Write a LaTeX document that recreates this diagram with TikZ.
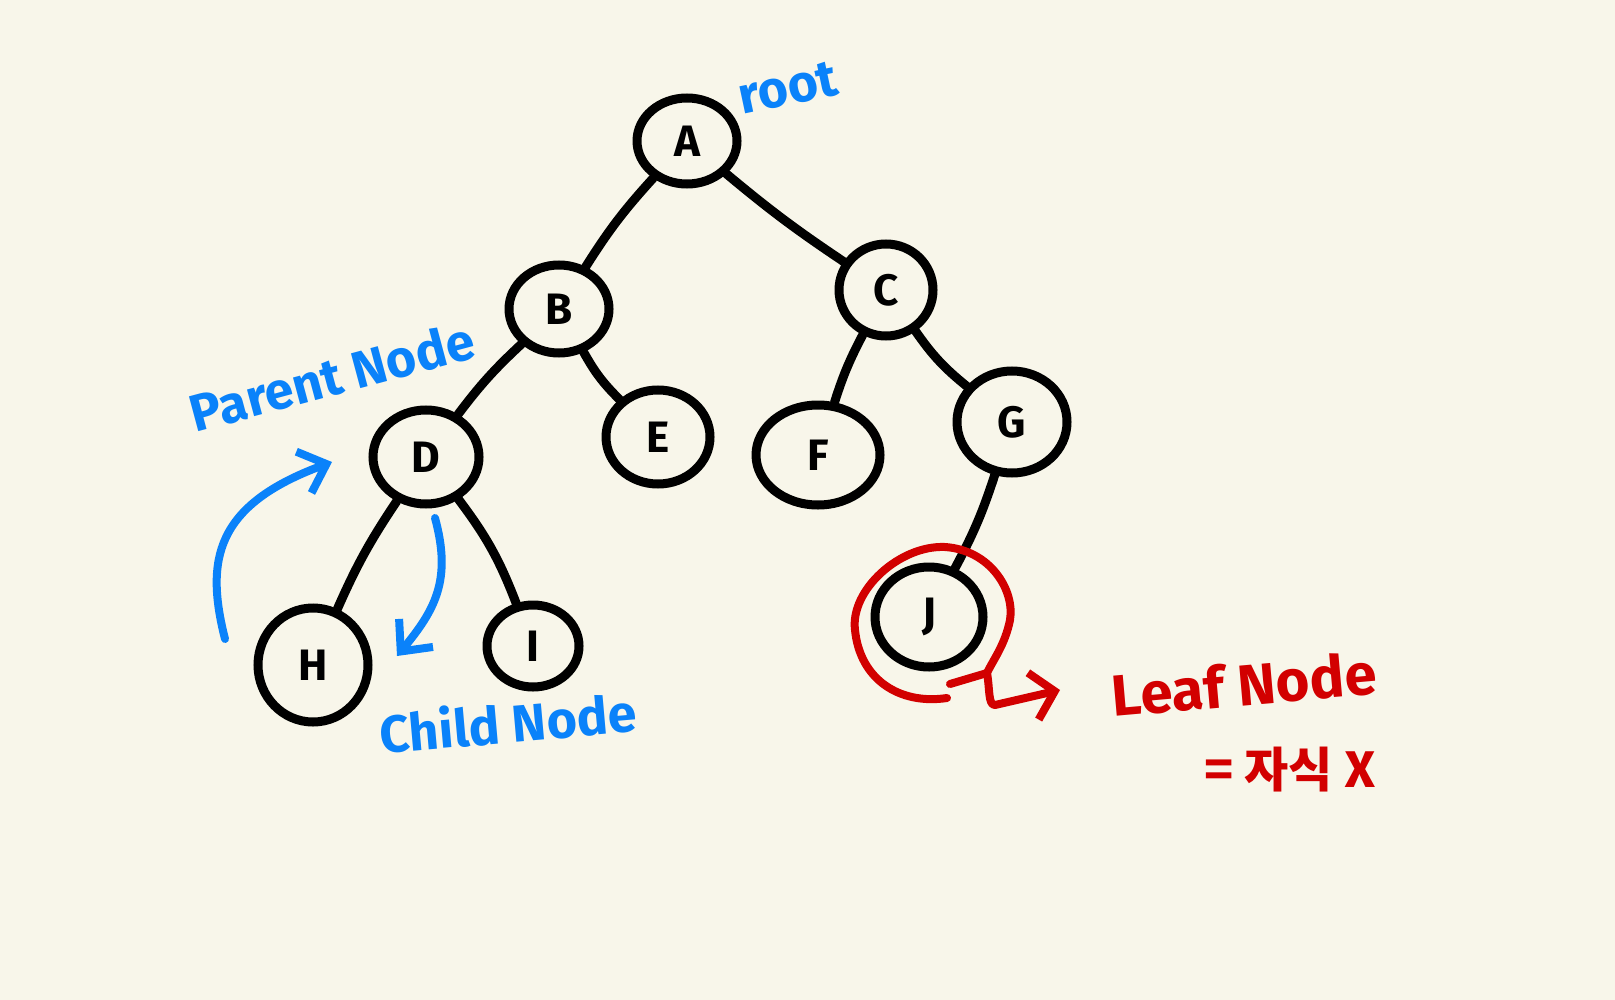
\documentclass[tikz,border=0pt]{standalone}
\usepackage{fontspec}
\setmainfont{Fira Sans}
\setsansfont{Fira Sans}
\newfontfamily\krfont{Noto Sans CJK KR}
\usetikzlibrary{shapes.geometric,arrows.meta}
\definecolor{bgcol}{RGB}{248,246,234}
\definecolor{penblue}{RGB}{10,130,250}
\definecolor{penred}{RGB}{210,0,0}
\tikzset{
  tnode/.style={ellipse, draw=black, line width=4.5pt, inner sep=0pt,
     font=\bfseries\fontsize{22}{24}\selectfont},
  tedge/.style={draw=black, line width=4.5pt, line cap=round},
  bluepen/.style={draw=penblue, line width=4pt, line cap=round, line join=round},
  redpen/.style={draw=penred, line width=4pt, line cap=round, line join=round},
  bluelabel/.style={text=penblue, font=\bfseries\fontsize{26}{28}\selectfont, inner sep=0pt},
  redlabel/.style={text=penred, font=\bfseries\fontsize{29}{31}\selectfont, inner sep=0pt},
}
\begin{document}
\begin{tikzpicture}[x=0.5pt,y=-0.5pt]
\fill[bgcol] (0,0) rectangle (1615,1000);
\useasboundingbox (0,0) rectangle (1615,1000);

% nodes
\node[tnode, minimum width=50pt, minimum height=43pt] (A) at (687,141) {A};
\node[tnode, minimum width=50pt, minimum height=44pt] (B) at (559,309) {B};
\node[tnode, minimum width=47pt, minimum height=46pt] (C) at (886,290) {C};
\node[tnode, minimum width=53pt, minimum height=47pt] (D) at (426,457) {D};
\node[tnode, minimum width=52pt, minimum height=47pt] (E) at (658,437) {E};
\node[tnode, minimum width=62pt, minimum height=50pt] (F) at (818,455) {F};
\node[tnode, minimum width=55pt, minimum height=51pt] (G) at (1012,422) {G};
\node[tnode, minimum width=55pt, minimum height=57pt] (H) at (313,665) {H};
\node[tnode, minimum width=46pt, minimum height=41pt] (I) at (533,646) {I};
\node[tnode, minimum width=54pt, minimum height=50pt] (J) at (929,617) {J};

% edges
\draw[tedge] (A) to[bend right=5] (B);
\draw[tedge] (A) to[bend right=3] (C);
\draw[tedge] (B) to[bend right=5] (D);
\draw[tedge] (B) to[bend right=8] (E);
\draw[tedge] (C) to[bend right=5] (F);
\draw[tedge] (C) to[bend right=8] (G);
\draw[tedge] (D) to[bend right=5] (H);
\draw[tedge] (D) to[bend left=8] (I);
\draw[tedge] (G) to[bend left=5] (J);

% labels
\node[bluelabel, rotate=12] (root) at (788,88) {root};
\node[bluelabel, rotate=15] (parent) at (332,376) {Parent Node};
\node[bluelabel, rotate=5] (child) at (508,722) {Child Node};
\node[redlabel, rotate=5] (leaf) at (1244,684) {Leaf Node};
\node[text=penred, font=\krfont\bfseries\fontsize{24}{26}\selectfont, inner sep=0pt] (nochild) at (1290,770) {= 자식 X};

% blue arrows
\coordinate (p1s) at (225,639);
\coordinate (p1e) at (332,462);
\draw[bluepen, -{Straight Barb[length=12pt,width=22pt,line width=4pt]}]
  (p1s) .. controls (205,560) and (215,505) .. (p1e);
\coordinate (p2s) at (435,518);
\coordinate (p2e) at (397,656);
\draw[bluepen, -{Straight Barb[length=12pt,width=22pt,line width=4pt]}]
  (p2s) .. controls (452,580) and (435,610) .. (p2e);

% red circle around J
\coordinate (r0) at (947,698);
\coordinate (r1) at (987,673);
\draw[redpen] (r0) .. controls (900,705) and (860,680) .. (855,630)
  .. controls (850,590) and (900,545) .. (945,547)
  .. controls (990,550) and (1015,590) .. (1010,620)
  .. controls (1005,645) and (993,660) .. (r1);
\coordinate (r2) at (950,684);
\draw[redpen] (r2) -- (r1);
\coordinate (r3) at (1060,690);
\draw[redpen, -{Straight Barb[length=11pt,width=24pt,line width=4pt]}]
  (r1) .. controls (990,690) and (988,705) .. (995,705) -- (r3);
\end{tikzpicture}
\end{document}
